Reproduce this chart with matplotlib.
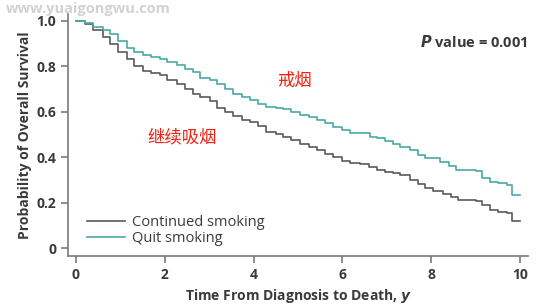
import matplotlib
matplotlib.use("Agg")
import matplotlib.pyplot as plt

plt.rcParams['font.family'] = ['Open Sans', 'Noto Sans CJK SC', 'DejaVu Sans']

# Kaplan-Meier style step data (time in years, survival prob)
cont_t = [0, 0.2, 0.39, 0.6, 0.77, 0.95, 1.14, 1.3, 1.51, 1.7, 1.89, 2.05, 2.27, 2.45,
          2.64, 2.8, 3.02, 3.17, 3.35, 3.54, 3.75, 3.92, 4.1, 4.29, 4.5, 4.67, 4.85,
          5.05, 5.25, 5.42, 5.6, 5.79, 6.0, 6.17, 6.4, 6.6, 6.77, 6.95, 7.14, 7.3,
          7.52, 7.7, 7.86, 8.05, 8.27, 8.45, 8.61, 9.02, 9.15, 9.32, 9.5, 9.7, 9.81, 10.0]
cont_s = [1.0, 0.985, 0.96, 0.93, 0.90, 0.865, 0.83, 0.80, 0.78, 0.77, 0.76, 0.74, 0.72, 0.70,
          0.68, 0.665, 0.645, 0.615, 0.60, 0.58, 0.565, 0.555, 0.535, 0.51, 0.50, 0.49, 0.475,
          0.46, 0.445, 0.43, 0.415, 0.40, 0.385, 0.375, 0.37, 0.355, 0.345, 0.335, 0.33, 0.32,
          0.30, 0.28, 0.263, 0.25, 0.24, 0.225, 0.21, 0.207, 0.19, 0.167, 0.16, 0.153, 0.12, 0.12]

quit_t = [0, 0.2, 0.39, 0.6, 0.77, 0.95, 1.14, 1.3, 1.51, 1.7, 1.89, 2.05, 2.27, 2.45,
          2.64, 2.79, 3.02, 3.17, 3.35, 3.54, 3.75, 3.92, 4.1, 4.29, 4.5, 4.67, 4.85,
          5.05, 5.25, 5.42, 5.6, 5.79, 6.0, 6.17, 6.4, 6.62, 6.77, 6.95, 7.14, 7.3,
          7.52, 7.7, 7.86, 8.2, 8.4, 8.57, 9.02, 9.15, 9.32, 9.5, 9.7, 9.81, 10.0]
quit_s = [1.0, 0.99, 0.975, 0.96, 0.94, 0.91, 0.88, 0.865, 0.85, 0.84, 0.83, 0.82, 0.806, 0.79,
          0.777, 0.75, 0.74, 0.72, 0.70, 0.68, 0.665, 0.65, 0.635, 0.62, 0.615, 0.61, 0.60,
          0.586, 0.575, 0.564, 0.55, 0.534, 0.52, 0.505, 0.505, 0.49, 0.483, 0.47, 0.46, 0.445,
          0.43, 0.41, 0.395, 0.38, 0.36, 0.344, 0.337, 0.31, 0.29, 0.285, 0.277, 0.233, 0.233]

xticks = [0, 2, 4, 6, 8, 10]
yticks = [0, 0.2, 0.4, 0.6, 0.8, 1.0]
ytick_labels = ["0", "0.2", "0.4", "0.6", "0.8", "1.0"]

GRAY = "#5a5a5a"
TEAL = "#4aa9a7"
SPINE = "#7a7a7a"
TXT = "#3a3a3a"

fig = plt.figure(figsize=(5.54, 3.05), dpi=100)
ax = fig.add_axes([0.1227, 0.1607, 0.8303, 0.7933])

ax.plot(cont_t, cont_s, drawstyle="steps-post", color=GRAY, lw=1.2, label="Continued smoking")
ax.plot(quit_t, quit_s, drawstyle="steps-post", color=TEAL, lw=1.2, label="Quit smoking")

ax.set_xlim(-0.18, 10.18)
ax.set_ylim(-0.035, 1.03)
ax.set_xticks(xticks)
ax.set_yticks(yticks)
ax.set_yticklabels(ytick_labels)
for s in ["top", "right"]:
    ax.spines[s].set_visible(False)
for s in ["left", "bottom"]:
    ax.spines[s].set_color(SPINE)
    ax.spines[s].set_linewidth(1.2)
ax.tick_params(colors=SPINE, length=5, width=1.2, labelsize=10, labelcolor=TXT)
for lab in ax.get_xticklabels() + ax.get_yticklabels():
    lab.set_fontweight("bold")

ax.set_ylabel("Probability of Overall Survival", fontsize=10, fontweight="bold",
              color=TXT, labelpad=3)
ax.set_xlabel("Time From Diagnosis to Death, $\\mathbfit{y}$", fontsize=10,
              fontweight="bold", color=TXT, labelpad=4)

leg = ax.legend(loc="lower left", bbox_to_anchor=(0.02, 0.0), frameon=False,
                fontsize=10.5, handlelength=2.6, handletextpad=0.45, labelspacing=0.05,
                borderaxespad=0.3)
for t in leg.get_texts():
    t.set_color(TXT)

ax.text(10.18, 0.905, "$\\mathbfit{P}$ value = 0.001", ha="right", va="center",
        fontsize=10.5, fontweight="bold", color=TXT)

ax.text(4.93, 0.735, "戒烟", color="#ee2211", fontsize=12.5, ha="center", va="center",
        family=["Noto Sans CJK SC", "DejaVu Sans"])
ax.text(2.39, 0.485, "继续吸烟", color="#ee2211", fontsize=12.5, ha="center", va="center",
        family=["Noto Sans CJK SC", "DejaVu Sans"])

fig.text(0.01, 0.972, "www.yuaigongwu.com", color="#d2d2d2", fontsize=10.5,
         fontweight="bold", ha="left", va="center")

fig.savefig("out.png", dpi=100, facecolor="white")
